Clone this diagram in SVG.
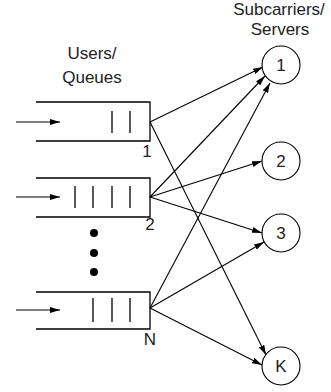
<svg xmlns="http://www.w3.org/2000/svg" width="331" height="392" viewBox="0 0 331 392">
  <style>
    .q { fill: none; stroke: #000; stroke-width: 1.3; }
    .bar { stroke: #000; stroke-width: 1.3; }
    .edge { stroke: #000; stroke-width: 1.1; fill: none; marker-end: url(#ah); }
    .srv { fill: #fff; stroke: #000; stroke-width: 1.1; }
    .t { font-family: "Liberation Sans", Arial, sans-serif; font-size: 17px; fill: #222; text-anchor: middle; }
  </style>
  <defs>
    <marker id="ah" viewBox="0 0 10 6" refX="10" refY="3" markerWidth="10" markerHeight="6" markerUnits="userSpaceOnUse" orient="auto">
      <path d="M0,0 L10,3 L0,6 Z" fill="#000"/>
    </marker>
  </defs>

  <!-- column headings -->
  <text class="t" x="92" y="59">Users/</text>
  <text class="t" x="92" y="83">Queues</text>
  <text class="t" x="279" y="15">Subcarriers/</text>
  <text class="t" x="280" y="35">Servers</text>

  <!-- queue 1 -->
  <g id="queue1">
    <line class="edge" x1="16" y1="122" x2="60" y2="122"/>
    <path class="q" d="M36,102 H150 V141 H36"/>
    <line class="bar" x1="112" y1="111" x2="112" y2="133"/>
    <line class="bar" x1="130" y1="111" x2="130" y2="133"/>
    <text class="t" x="147" y="157">1</text>
  </g>

  <!-- queue 2 -->
  <g id="queue2">
    <line class="edge" x1="16" y1="197" x2="60" y2="197"/>
    <path class="q" d="M36,178 H150 V217 H36"/>
    <line class="bar" x1="75" y1="186" x2="75" y2="208"/>
    <line class="bar" x1="93" y1="186" x2="93" y2="208"/>
    <line class="bar" x1="112" y1="186" x2="112" y2="208"/>
    <line class="bar" x1="130" y1="186" x2="130" y2="208"/>
    <text class="t" x="150" y="230">2</text>
  </g>

  <!-- ellipsis between queues -->
  <g id="dots">
    <circle cx="94" cy="233" r="4"/>
    <circle cx="94" cy="253" r="4"/>
    <circle cx="94" cy="272" r="4"/>
  </g>

  <!-- queue N -->
  <g id="queueN">
    <line class="edge" x1="16" y1="310" x2="60" y2="310"/>
    <path class="q" d="M36,292 H150 V329 H36"/>
    <line class="bar" x1="93" y1="298" x2="93" y2="322"/>
    <line class="bar" x1="112" y1="298" x2="112" y2="322"/>
    <line class="bar" x1="130" y1="298" x2="130" y2="322"/>
    <text class="t" x="150" y="345">N</text>
  </g>

  <!-- assignments of queues to servers -->
  <g id="connectors">
    <line class="edge" x1="150" y1="122" x2="263" y2="67"/>
    <line class="edge" x1="150" y1="122" x2="266" y2="355"/>
    <line class="edge" x1="150" y1="197" x2="265" y2="76"/>
    <line class="edge" x1="150" y1="197" x2="262" y2="161"/>
    <line class="edge" x1="150" y1="197" x2="262" y2="233"/>
    <line class="edge" x1="150" y1="308" x2="270" y2="83"/>
    <line class="edge" x1="150" y1="308" x2="264" y2="242"/>
    <line class="edge" x1="150" y1="308" x2="262" y2="365"/>
  </g>

  <!-- servers -->
  <g id="server1">
    <circle class="srv" cx="281" cy="65" r="19"/>
    <text class="t" x="281" y="71">1</text>
  </g>
  <g id="server2">
    <circle class="srv" cx="281" cy="161" r="19"/>
    <text class="t" x="281" y="167">2</text>
  </g>
  <g id="server3">
    <circle class="srv" cx="281" cy="233" r="19"/>
    <text class="t" x="281" y="239">3</text>
  </g>
  <g id="serverK">
    <circle class="srv" cx="281" cy="366" r="19"/>
    <text class="t" x="281" y="372">K</text>
  </g>
</svg>
